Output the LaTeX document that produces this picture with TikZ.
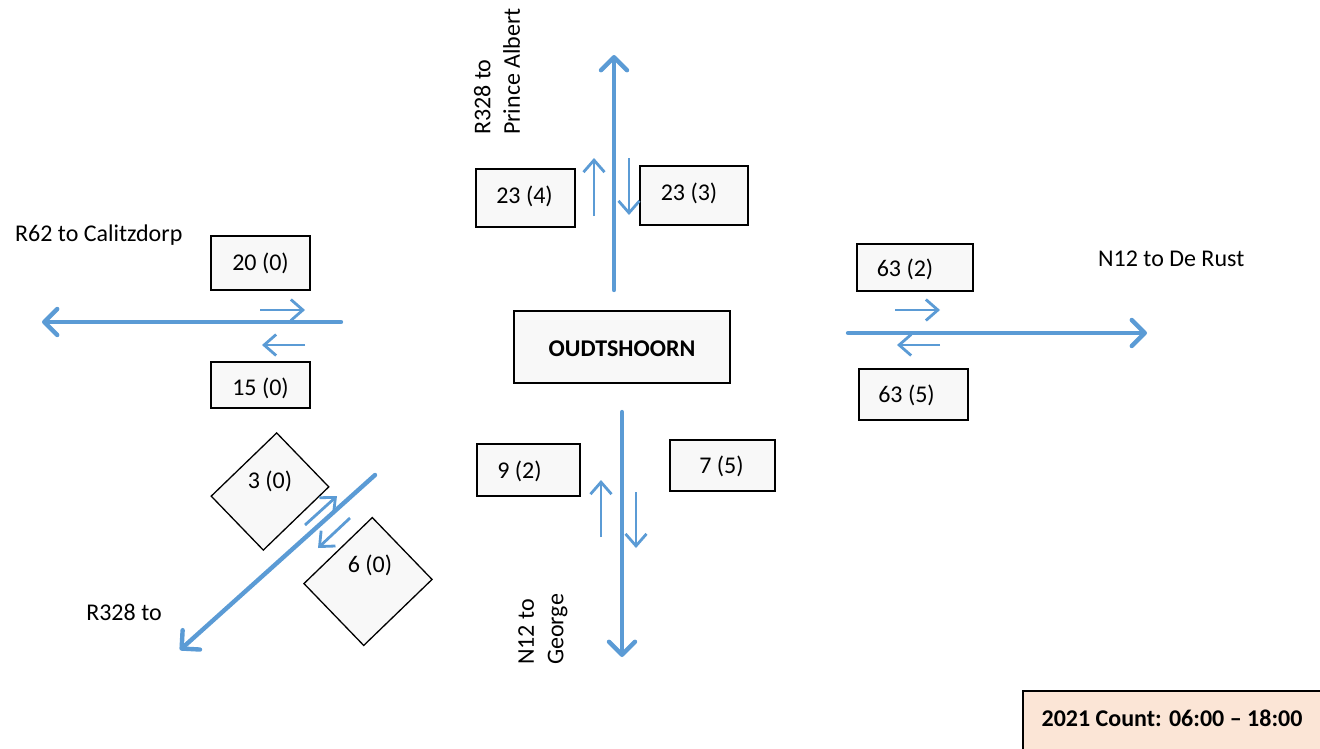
\documentclass[tikz,border=0pt]{standalone}
\usepackage{fontspec}
\setmainfont{Carlito}
\usetikzlibrary{arrows.meta}
\definecolor{roadblue}{HTML}{5B9BD5}
\definecolor{boxgrey}{HTML}{F8F8F8}
\definecolor{peach}{HTML}{FBE5D6}
\tikzset{
  road/.style={roadblue, line width=4.4pt, line cap=round,
    -{Straight Barb[length=13pt, width=26pt, line width=4.4pt, round]}},
  lane/.style={roadblue, line width=2.8pt,
    -{Straight Barb[length=12pt, width=21pt, line width=2.8pt]}},
  cbox/.style={draw=black, line width=1.3pt, fill=boxgrey, inner sep=0pt},
  lbl/.style={inner sep=0pt, font=\fontsize{24}{28}\selectfont},
  txt/.style={inner sep=0pt, font=\fontsize{24}{29.5}\selectfont},
}
\begin{document}
\begin{tikzpicture}[x=1pt,y=-1pt]
\path[use as bounding box] (0,0) rectangle (1320,748);

% count boxes
\node[cbox, minimum width=99, minimum height=54,
  label={[lbl]center:20 (0)}] (b20) at (260.5,263) {};
\node[cbox, minimum width=99, minimum height=46,
  label={[lbl, yshift=-3pt]center:15 (0)}] (b15) at (260.5,385) {};
\node[cbox, minimum width=99, minimum height=58,
  label={[lbl, xshift=-1pt, yshift=2pt]center:23 (4)}] (b234) at (525.5,198) {};
\node[cbox, minimum width=108, minimum height=59,
  label={[lbl, xshift=-5pt, yshift=2pt]center:23 (3)}] (b233) at (694,195.5) {};
\node[cbox, minimum width=216, minimum height=72,
  label={[lbl, font=\fontsize{24}{28}\selectfont\bfseries, yshift=-2pt]center:OUDTSHOORN}] (town) at (622,347) {};
\node[cbox, minimum width=103, minimum height=52,
  label={[lbl, xshift=-9pt, yshift=-1pt]center:9 (2)}] (b92) at (528.5,470) {};
\node[cbox, minimum width=105, minimum height=51,
  label={[lbl, xshift=-1pt, yshift=-1pt]center:7 (5)}] (b75) at (722.5,465.5) {};
\node[cbox, minimum width=116, minimum height=47,
  label={[lbl, xshift=-10pt, yshift=-2pt]center:63 (2)}] (b632) at (915,267.5) {};
\node[cbox, minimum width=109, minimum height=51,
  label={[lbl, xshift=-7pt, yshift=-1pt]center:63 (5)}] (b635) at (913.5,394.5) {};

% rotated count boxes
\node[cbox, rotate=-46, minimum width=75, minimum height=91] (d3) at (270,491.5) {};
\node[lbl] (t3) at (270,481) {3 (0)};
\node[cbox, rotate=-46, minimum width=86, minimum height=95] (d6) at (368,581.5) {};
\node[lbl] (t6) at (370,565) {6 (0)};

% road ends
\coordinate (wA) at (341,322); \coordinate (wB) at (42,322);
\coordinate (nA) at (614,290); \coordinate (nB) at (614,55);
\coordinate (sA) at (622,412); \coordinate (sB) at (622,657);
\coordinate (eA) at (848,333); \coordinate (eB) at (1147,333);
\coordinate (dA) at (375,475); \coordinate (dB) at (180,650);

\draw[road] (wA) -- (wB);
\draw[road] (nA) -- (nB);
\draw[road] (sA) -- (sB);
\draw[road] (eA) -- (eB);
\draw[road] (dA) -- (dB);

% lane arrows
\coordinate (w1a) at (260,310); \coordinate (w1b) at (305,310);
\coordinate (w2a) at (305,345); \coordinate (w2b) at (262,345);
\coordinate (n1a) at (594,216); \coordinate (n1b) at (594,158);
\coordinate (n2a) at (629,158); \coordinate (n2b) at (629,215);
\coordinate (s1a) at (601,537); \coordinate (s1b) at (601,480);
\coordinate (s2a) at (636,492); \coordinate (s2b) at (636,548);
\coordinate (e1a) at (895,310); \coordinate (e1b) at (940,310);
\coordinate (e2a) at (940,345); \coordinate (e2b) at (897,345);
\coordinate (d1a) at (305,525); \coordinate (d1b) at (337,496);
\coordinate (d2a) at (350,518); \coordinate (d2b) at (318,548);
\draw[lane] (w1a) -- (w1b);
\draw[lane] (w2a) -- (w2b);
\draw[lane] (n1a) -- (n1b);
\draw[lane] (n2a) -- (n2b);
\draw[lane] (s1a) -- (s1b);
\draw[lane] (s2a) -- (s2b);
\draw[lane] (e1a) -- (e1b);
\draw[lane] (e2a) -- (e2b);
\draw[lane] (d1a) -- (d1b);
\draw[lane] (d2a) -- (d2b);

% place labels
\node[txt, anchor=west] (calitz) at (15,235) {R62 to Calitzdorp};
\node[txt] (r328sw) at (124,612) {R328 to};
\node[txt, anchor=west] (derust) at (1098,259) {N12 to De Rust};
\node[txt, rotate=90, anchor=west, align=left] (prince) at (497,135) {R328 to\\Prince Albert};
\node[txt, rotate=90, anchor=west, align=left] (george) at (543,665) {N12 to\\George};

% count period
\draw[line width=1.3pt, fill=peach] (1023,691) rectangle (1335,760);
\node[txt, font=\fontsize{24}{28}\selectfont\bfseries] (period) at (1172,718) {2021 Count: 06:00 -- 18:00};
\end{tikzpicture}
\end{document}
